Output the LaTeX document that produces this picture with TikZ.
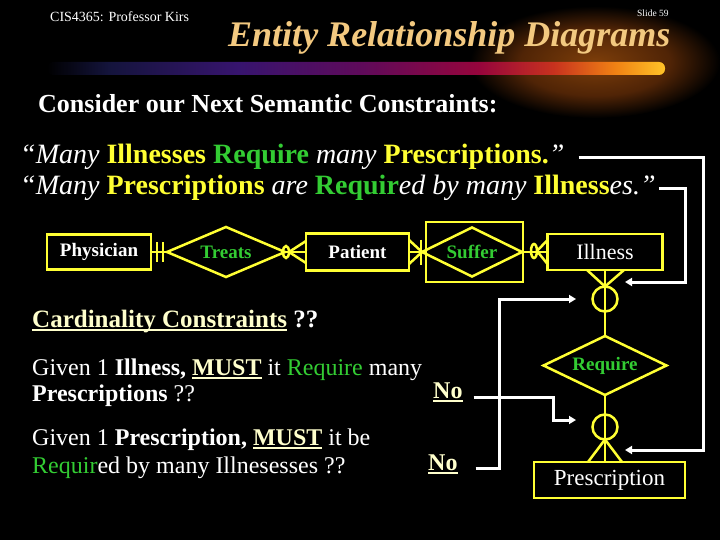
\documentclass[tikz,border=0pt]{standalone}
\usepackage{fontspec}
\setmainfont{Liberation Serif}
\usetikzlibrary{positioning,shapes.geometric,arrows.meta}
\definecolor{erline}{RGB}{255,255,51}
\definecolor{ergreen}{RGB}{51,204,51}
\definecolor{titletan}{RGB}{243,201,128}
\definecolor{cream}{RGB}{255,255,204}
\definecolor{barA}{RGB}{20,20,60}
\definecolor{barB}{RGB}{55,20,110}
\definecolor{barC}{RGB}{95,10,90}
\definecolor{barD}{RGB}{150,5,60}
\definecolor{barE}{RGB}{200,50,30}
\definecolor{barF}{RGB}{240,130,20}
\definecolor{barG}{RGB}{255,195,40}
\definecolor{glowA}{RGB}{125,62,10}
\definecolor{glowB}{RGB}{80,36,6}
\pgfdeclarehorizontalshading{barshade}{100bp}{color(0bp)=(black); color(25bp)=(black);
  color(30bp)=(barA); color(40.5bp)=(barB); color(50.5bp)=(barC); color(60bp)=(barD);
  color(66bp)=(barE); color(71bp)=(barF); color(75bp)=(barG); color(100bp)=(barG)}
\pgfdeclareradialshading{glowshade}{\pgfpoint{0bp}{0bp}}{color(0bp)=(glowA);
  color(15bp)=(glowB); color(25bp)=(black); color(50bp)=(black)}
\newcommand{\fsz}[1]{\fontsize{#1}{#1}\selectfont}
\newcommand{\undl}[1]{\setbox0=\hbox{#1}\rlap{\vrule height -2pt depth 4pt width \wd0}\box0}

\begin{document}
\begin{tikzpicture}[x=1pt,y=-1pt]
  \tikzstyle{entity} = [rectangle, draw=erline, line width=2.5pt, inner sep=0pt, outer sep=0pt, text=white, font=\fsz{19}\bfseries]
  \tikzstyle{relship} = [diamond, aspect=2.2, draw=erline, line width=2.5pt, inner sep=0pt, outer sep=0pt, text=ergreen, font=\fsz{19}\bfseries]
  \tikzstyle{ring} = [ellipse, draw=erline, line width=2.5pt, inner sep=0pt, outer sep=0pt]
  \tikzstyle{erlink} = [draw=erline, line width=2.5pt]
  \tikzstyle{hint} = [draw=white, line width=3pt, -{Triangle[length=7pt,width=8pt]}]
  \tikzstyle{txt} = [anchor=base west, inner sep=0pt, text=white]
  \useasboundingbox (0,0) rectangle (720,540);
  \fill[black] (0,0) rectangle (720,540);

  % header
  \shade[shading=glowshade] (595,62) ellipse [x radius=125, y radius=56];
  \shade[shading=barshade, rounded corners=6pt] (47,62) rectangle (665,75);
  \node[txt, font=\fsz{14}] (course) at (50,22) {CIS4365: Professor Kirs};
  \node[txt, font=\fsz{9.5}] (slide) at (637,17) {Slide 59};
  \node[txt, text=titletan, font=\fsz{36}\bfseries\itshape] (title) at (228,47) {Entity Relationship Diagrams};
  \node[txt, font=\fsz{26}\bfseries] (consider) at (38,113) {Consider our Next Semantic Constraints:};

  % the two constraints
  \node[txt, font=\fsz{28}] (q1) at (20,164) {\textit{“Many} {\bfseries\color{erline}Illnesses} {\bfseries\color{ergreen}Require} \textit{many} {\bfseries\color{erline}Prescriptions.}\textit{”}};
  \node[txt, font=\fsz{28}] (q2) at (20,195) {\textit{“Many} {\bfseries\color{erline}Prescriptions} \textit{are} {\bfseries\color{ergreen}Requir}\textit{ed by many} {\bfseries\color{erline}Illness}\textit{es.”}};

  % ER diagram
  \node[entity, minimum width=104pt, minimum height=35pt] (phys) at (99,252) {Physician};
  \node[relship, minimum width=118pt, minimum height=50pt] (treats) at (226,252) {Treats};
  \node[entity, minimum width=103pt, minimum height=37pt] (patient) at (357.5,252) {Patient};
  \node[entity, minimum width=97pt, minimum height=60pt] (sufbox) at (474.5,252) {};
  \node[relship, minimum width=100pt, minimum height=49pt] (suffer) at (472,252) {Suffer};
  \node[entity, font=\fsz{22}, minimum width=115pt, minimum height=36pt] (illness) at (605,252) {Illness};
  \node[relship, minimum width=123pt, minimum height=59pt] (require) at (605,365.5) {Require};
  \node[entity, font=\fsz{23}, minimum width=151pt, minimum height=36pt] (presc) at (609.5,480) {Prescription};
  \coordinate (pt) at (require.south |- presc.north);

  \node[ring, minimum width=6pt, minimum height=12pt] (o1) at (286,252) {};
  \node[ring, minimum width=6pt, minimum height=14pt] (o2) at (534,251) {};
  \node[ring, minimum width=25pt, minimum height=25pt] (o3) at (605,299) {};
  \node[ring, minimum width=25pt, minimum height=25pt] (o4) at (605,427) {};

  \path[erlink] (phys.east) -- (treats.west);
  \path[erlink] ([shift={(6,-10)}]phys.east) -- ([shift={(6,10)}]phys.east)
    ([shift={(12,-10)}]phys.east) -- ([shift={(12,10)}]phys.east);
  \path[erlink] (treats.east) -- (patient.west);
  \path[erlink] (o1.east) -- ([yshift=11pt]patient.west)
    (o1.east) -- ([yshift=-11pt]patient.west);
  \path[erlink] (patient.east) -- (suffer.west);
  \path[erlink] (suffer.west) -- ([yshift=12pt]patient.east)
    (suffer.west) -- ([yshift=-12pt]patient.east);
  \path[erlink] ([shift={(-1,-12.5)}]suffer.west) -- ([shift={(-1,12.5)}]suffer.west);
  \path[erlink] (suffer.east) -- (illness.west);
  \path[erlink] (o2.east) -- ([yshift=12pt]illness.west)
    (o2.east) -- ([yshift=-12pt]illness.west);
  \path[erlink] (illness.south) -- (require.north);
  \path[erlink] (o3.north) -- ([xshift=-18pt]illness.south)
    (o3.north) -- ([xshift=19pt]illness.south);
  \path[erlink] (require.south) -- (pt);
  \path[erlink] (o4.south) -- ([xshift=-17pt]pt)
    (o4.south) -- ([xshift=17pt]pt);

  % cardinality questions
  \node[txt, font=\fsz{25}\bfseries] (card) at (32,327) {{\color{cream}\undl{Cardinality Constraints}} ??};
  \node[txt, font=\fsz{24}] (g1) at (32,375) {Given 1 \textbf{Illness,} {\bfseries\color{cream}\undl{MUST}} it {\color{ergreen}Require} many};
  \node[txt, font=\fsz{24}] (g2) at (32,401) {\textbf{Prescriptions} ??};
  \node[txt, font=\fsz{24}] (g3) at (32,445) {Given 1 \textbf{Prescription,} {\bfseries\color{cream}\undl{MUST}} it be};
  \node[txt, font=\fsz{24}] (g4) at (32,473) {{\color{ergreen}Requir}ed by many Illnesesses ??};
  \node[txt, text=cream, font=\fsz{24}\bfseries] (no1) at (433,398) {\undl{No}};
  \node[txt, text=cream, font=\fsz{24}\bfseries] (no2) at (428,470) {\undl{No}};

  % pointers
  \coordinate (k1) at (703,450);
  \coordinate (tip1) at (625,450);
  \coordinate (k2) at (685,282);
  \coordinate (tip2) at (625,282);
  \coordinate (k3) at (553,420);
  \coordinate (tip3) at (576,420);
  \coordinate (k4) at (499,299);
  \coordinate (tip4) at (576,299);
  \draw[hint] ([xshift=14pt]q1.east) -| (k1) -- (tip1);
  \draw[hint] ([xshift=3pt]q2.east) -| (k2) -- (tip2);
  \draw[hint] ([shift={(11,-1)}]no1.base east) -| (k3) -- (tip3);
  \draw[hint] ([shift={(18,-2)}]no2.base east) -| (k4) -- (tip4);
\end{tikzpicture}
\end{document}
